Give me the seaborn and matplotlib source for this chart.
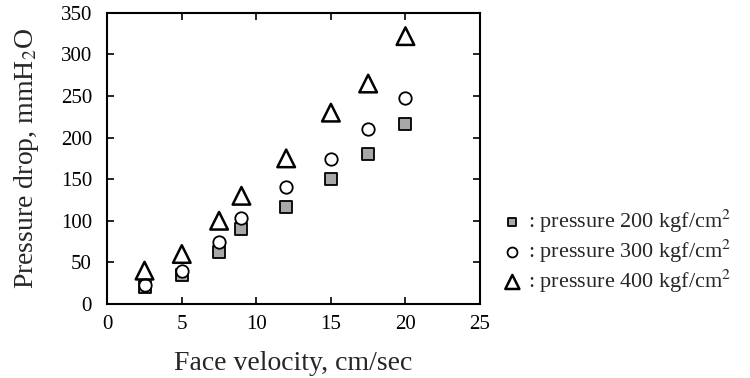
import matplotlib
matplotlib.use("Agg")
import matplotlib.pyplot as plt
import seaborn as sns
import pandas as pd

velocity = [2.5, 5, 7.5, 9, 12, 15, 17.5, 20]
p200 = [20, 35, 62, 90, 117, 150, 180, 216]
p300 = [23, 40, 74, 103, 140, 174, 210, 248]
p400 = [40, 60, 100, 130, 175, 230, 265, 322]
labels = [": pressure 200 kgf/cm$^2$", ": pressure 300 kgf/cm$^2$", ": pressure 400 kgf/cm$^2$"]
xticks = [0, 5, 10, 15, 20, 25]
yticks = [0, 50, 100, 150, 200, 250, 300, 350]

sns.set_style("ticks")
plt.rcParams['font.family'] = ['Liberation Serif', 'DejaVu Serif']
plt.rcParams['mathtext.fontset'] = 'stix'

fig = plt.figure(figsize=(7.5, 3.78), dpi=100)
ax = fig.add_axes([0.143, 0.196, 0.497, 0.770])

df = pd.DataFrame({"v": velocity * 3,
                   "dp": p200 + p300 + p400,
                   "series": [labels[0]] * 8 + [labels[1]] * 8 + [labels[2]] * 8})

sns.scatterplot(data=df[df.series == labels[0]], x="v", y="dp", ax=ax, marker="s",
                s=65, facecolor="#a8a8a8", edgecolor="black", linewidth=1.3, label=labels[0])
sns.scatterplot(data=df[df.series == labels[1]], x="v", y="dp", ax=ax, marker="o",
                s=80, facecolor="white", edgecolor="black", linewidth=1.3, label=labels[1])
sns.scatterplot(data=df[df.series == labels[2]], x="v", y="dp", ax=ax, marker="^",
                s=160, facecolor="none", edgecolor="black", linewidth=1.8, label=labels[2])

ax.set_xlim(0, 25)
ax.set_ylim(0, 350)
ax.set_xticks(xticks)
ax.set_yticks(yticks)
ax.tick_params(direction="in", top=True, right=True, length=5, width=1.2,
               labelsize=15, colors="black")
ax.tick_params(axis="y", pad=11)
ax.tick_params(axis="x", pad=8)
for sp in ax.spines.values():
    sp.set_linewidth(1.5)
    sp.set_color("black")
ax.set_xlabel("Face velocity, cm/sec", fontsize=20, labelpad=12)
ax.set_ylabel("Pressure drop, mmH$_2$O", fontsize=20, labelpad=14)

leg = ax.legend(loc="center left", bbox_to_anchor=(1.057, 0.18), frameon=False,
                fontsize=16, handlelength=1.0, handletextpad=0.2, labelspacing=0.12,
                borderpad=0, borderaxespad=0, markerscale=0.8)

fig.savefig("out.png", dpi=100)
